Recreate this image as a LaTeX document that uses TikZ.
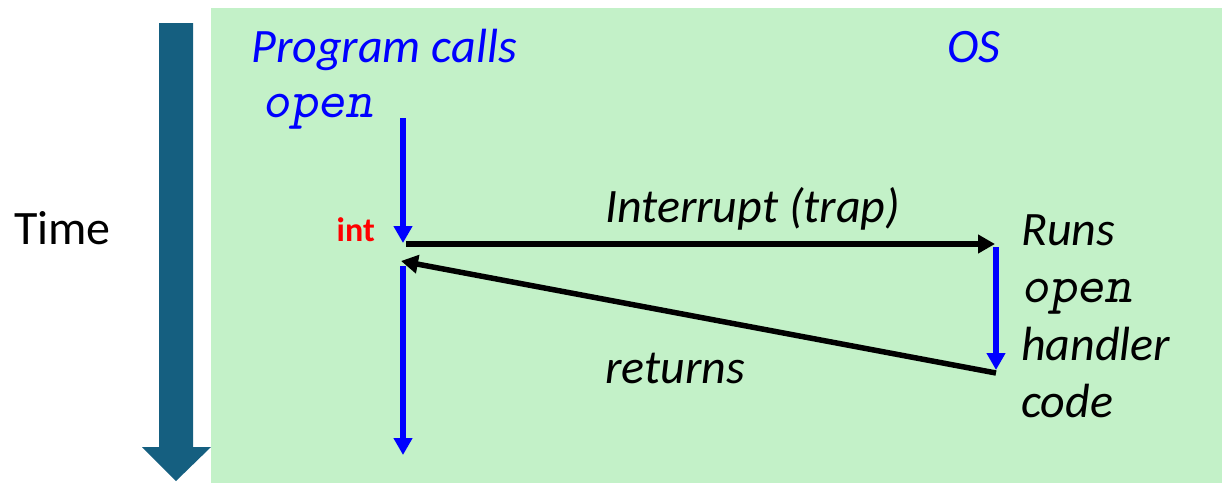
\documentclass[tikz,border=0pt]{standalone}
\usepackage{fontspec}
\setmainfont{Carlito}
\usetikzlibrary{arrows.meta,positioning}
\definecolor{bggreen}{RGB}{195,241,200}
\definecolor{timeblue}{RGB}{21,95,128}

\begin{document}
\begin{tikzpicture}[x=1pt,y=-1pt,
    txt/.style={inner sep=0pt,anchor=base west,font=\fontsize{48}{58}\selectfont},
    lbl/.style={txt,font=\fontsize{48}{58}\selectfont\itshape},
    codelbl/.style={txt,font=\fontsize{53}{60}\selectfont\ttfamily\slshape},
    flow/.style={line width=5.5pt,blue,-{Triangle[length=17pt,width=18pt]}},
    call/.style={line width=5.5pt,-{Triangle[length=17pt,width=18pt]}}]
  \useasboundingbox (0,0) rectangle (1222,483);
  \fill[bggreen] (211,8) rectangle (1222,483);

  % time arrow
  \fill[timeblue] (159,23) -- (193,23) -- (193,447) -- (211,447)
    -- (176,481) -- (142,447) -- (159,447) -- cycle;
  \node[txt] (time) at (14,244) {Time};

  \node[lbl,blue]     (prog)     at (251,62)  {Program calls};
  \node[lbl,blue]     (os)       at (947,62)  {OS};
  \node[codelbl,blue] (openuser) at (262,117) {open};
  \node[inner sep=0pt,anchor=base east,red,font=\fontsize{34}{40}\selectfont\bfseries]
                      (int)      at (375,241) {int};
  \node[lbl]          (trap)     at (605,222) {Interrupt (trap)};
  \node[lbl]          (ret)      at (605,383) {returns};

  \node[lbl]     (runs)    at (1021,245) {Runs};
  \node[codelbl] (openos)  [below=57pt of runs.base west,anchor=base west] {open};
  \node[lbl]     (handler) [below=58pt of openos.base west,anchor=base west] {handler};
  \node[lbl]     (code)    [below=57pt of handler.base west,anchor=base west] {code};

  \coordinate (usertop)    at (403,118);
  \coordinate (trapin)     at (403,243);
  \coordinate (trapout)    at (406,244);
  \coordinate (ostop)      at (995,244);
  \coordinate (osrun)      at (996,247);
  \coordinate (osend)      at (996,370);
  \coordinate (retfrom)    at (996,373);
  \coordinate (retto)      at (401,261);
  \coordinate (userresume) at (403,266);
  \coordinate (userend)    at (403,455);

  \draw[flow] (usertop) -- (trapin);
  \draw[call] (trapout) -- (ostop);
  \draw[flow] (osrun) -- (osend);
  \draw[call] (retfrom) -- (retto);
  \draw[flow] (userresume) -- (userend);
\end{tikzpicture}
\end{document}
